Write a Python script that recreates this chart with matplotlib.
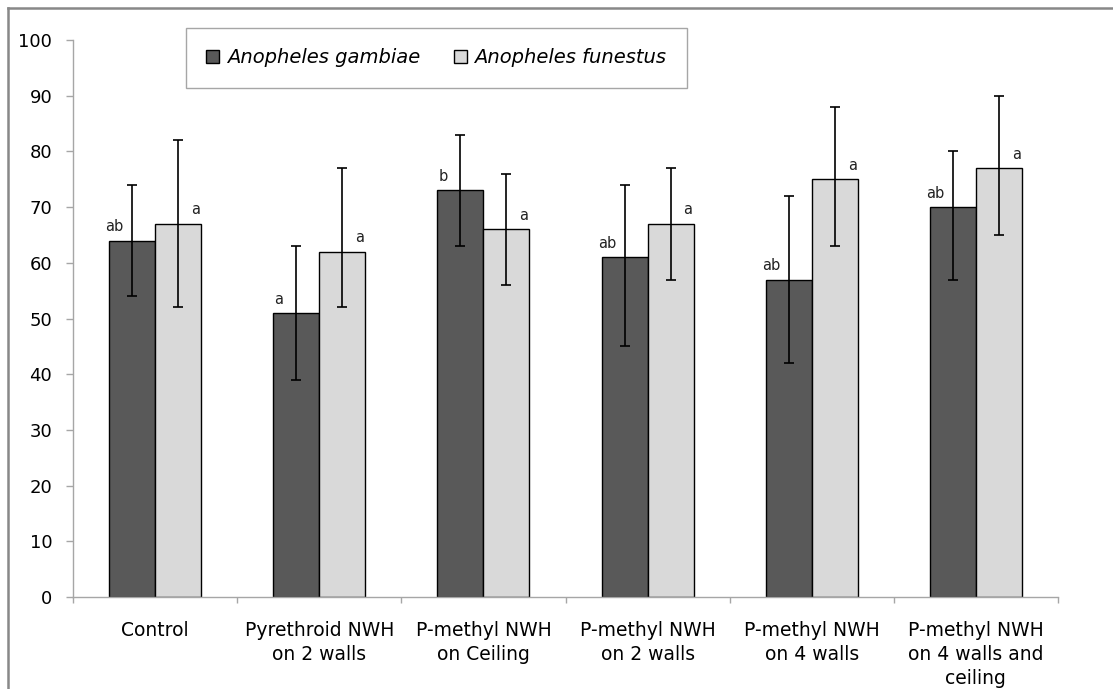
import numpy as np
import matplotlib.pyplot as plt
from matplotlib.lines import Line2D

# data
categories = ["Control", "Pyrethroid NWH\non 2 walls", "P-methyl NWH\non Ceiling",
              "P-methyl NWH\non 2 walls", "P-methyl NWH\non 4 walls",
              "P-methyl NWH\non 4 walls and\nceiling"]
gambiae = [64, 51, 73, 61, 57, 70]
gambiae_lo = [54, 39, 63, 45, 42, 57]
gambiae_hi = [74, 63, 83, 74, 72, 80]
funestus = [67, 62, 66, 67, 75, 77]
funestus_lo = [52, 52, 56, 57, 63, 65]
funestus_hi = [82, 77, 76, 77, 88, 90]
gambiae_letters = ["ab", "a", "b", "ab", "ab", "ab"]
funestus_letters = ["a", "a", "a", "a", "a", "a"]
series_names = ["Anopheles gambiae", "Anopheles funestus"]

W, H = 1113, 689
fig = plt.figure(figsize=(W / 100, H / 100), dpi=100)
ax = fig.add_axes([73 / W, 1 - 597 / H, (1058 - 73) / W, (597 - 40) / H])

x = np.arange(len(categories))
bw = 0.28
g = np.array(gambiae)
f = np.array(funestus)
g_err = [g - np.array(gambiae_lo), np.array(gambiae_hi) - g]
f_err = [f - np.array(funestus_lo), np.array(funestus_hi) - f]

ax.bar(x - bw / 2, g, bw, color="#595959", edgecolor="black", linewidth=1,
       label=series_names[0], zorder=2)
ax.bar(x + bw / 2, f, bw, color="#d9d9d9", edgecolor="black", linewidth=1,
       label=series_names[1], zorder=2)
ax.errorbar(x - bw / 2, g, yerr=g_err, fmt="none", ecolor="black",
            elinewidth=1.2, capsize=3.6, capthick=1.2, zorder=3)
ax.errorbar(x + bw / 2, f, yerr=f_err, fmt="none", ecolor="black",
            elinewidth=1.2, capsize=3.6, capthick=1.2, zorder=3)

for i in range(len(categories)):
    ax.annotate(gambiae_letters[i], (x[i] - bw, g[i]), xytext=(4, 10),
                textcoords="offset points", ha="center", va="center",
                fontsize=10.5, color="#222222")
    ax.annotate(funestus_letters[i], (x[i] + bw, f[i]), xytext=(-4, 10),
                textcoords="offset points", ha="center", va="center",
                fontsize=10.5, color="#222222")

ax.set_xlim(-0.5, len(categories) - 0.5)
ax.set_ylim(0, 100)
ax.set_yticks(range(0, 101, 10))
ax.set_xticks(x)
ax.set_xticklabels(categories, fontsize=13.5, linespacing=1.35)
ax.set_xticks(np.arange(-0.5, len(categories), 1), minor=True)
ax.tick_params(axis="x", which="major", length=0, pad=17)
ax.tick_params(axis="x", which="minor", length=4.5, color="#a6a6a6", width=1)
ax.tick_params(axis="y", length=5, color="#a6a6a6", width=1, pad=10, labelsize=13)

for side in ["top", "right"]:
    ax.spines[side].set_visible(False)
for side in ["left", "bottom"]:
    ax.spines[side].set_color("#a6a6a6")
    ax.spines[side].set_linewidth(1)

leg = ax.legend(loc="upper left", bbox_to_anchor=(186 / W, 1 - 28 / H),
                bbox_transform=fig.transFigure, ncol=2, borderaxespad=0,
                prop={"style": "italic", "size": 14}, handlelength=0.65,
                handleheight=0.65, handletextpad=0.4, borderpad=1.05,
                columnspacing=1.75,
                fancybox=False, edgecolor="#a6a6a6", framealpha=1)
leg.get_frame().set_linewidth(1)

# outer chart border (only top and left visible in the crop)
fig.add_artist(Line2D([8 / W, 8 / W], [0, 1 - 8 / H], transform=fig.transFigure,
                      color="#888888", linewidth=1.8))
fig.add_artist(Line2D([8 / W, 1], [1 - 8 / H, 1 - 8 / H], transform=fig.transFigure,
                      color="#888888", linewidth=1.8))

fig.savefig("out.png", dpi=100)
